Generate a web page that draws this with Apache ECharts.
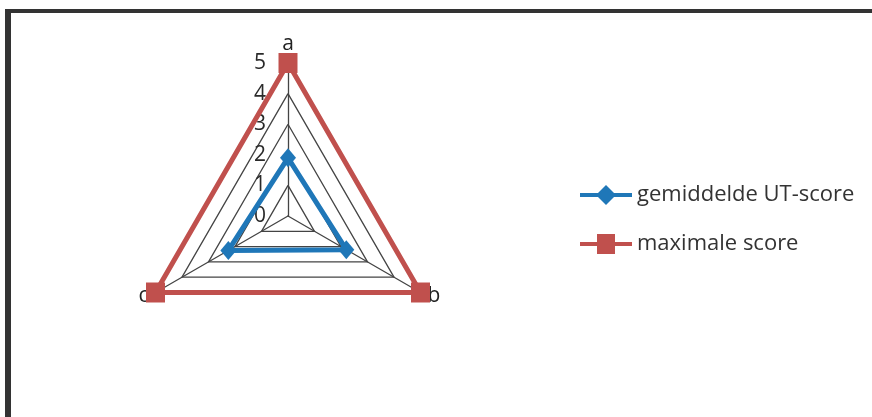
<!DOCTYPE html>
<html>
<head>
<meta charset="utf-8">
<script src="https://cdn.jsdelivr.net/npm/echarts@6/dist/echarts.min.js"></script>
<style>
html,body{margin:0;padding:0;background:#fff;}
#chart{width:872px;height:417px;position:absolute;left:0;top:0;}
#frame{position:absolute;left:5px;top:9px;width:900px;height:500px;border-top:4px solid #333;border-left:6px solid #333;pointer-events:none;}
</style>
</head>
<body>
<div id="chart"></div>
<div id="frame"></div>
<script>
// Data
const categories = ['a', 'c', 'b']; // radar order (counterclockwise from top)
const seriesNames = ['gemiddelde UT-score', 'maximale score'];
const avgScore = [1.9, 2.25, 2.2];   // a, c, b
const maxScore = [5, 5, 5];           // a, c, b
const ringTicks = [0, 1, 2, 3, 4, 5];

const FONT = 'Open Sans';
const chart = echarts.init(document.getElementById('chart'));
const maxVal = ringTicks[ringTicks.length - 1];

chart.setOption({
  animation: false,
  textStyle: { fontFamily: FONT },
  legend: {
    orient: 'vertical',
    left: 575,
    top: 179,
    itemWidth: 52,
    itemHeight: 20,
    itemGap: 27,
    textStyle: { fontFamily: FONT, fontSize: 22, color: '#333' },
    data: [
      { name: seriesNames[0], icon: 'path://M0,8 L18,8 L26,0 L34,8 L52,8 L52,12 L34,12 L26,20 L18,12 L0,12 Z' },
      { name: seriesNames[1], icon: 'path://M0,8 L17,8 L17,0 L35,0 L35,8 L52,8 L52,12 L35,12 L35,20 L17,20 L17,12 L0,12 Z' }
    ]
  },
  grid: { left: 288, top: 63, width: 1, height: 153, show: false },
  xAxis: { type: 'value', show: false },
  yAxis: {
    type: 'value', min: ringTicks[0], max: maxVal, interval: 1,
    axisLine: { show: false }, axisTick: { show: false }, splitLine: { show: false },
    axisLabel: { margin: 22, fontSize: 21, color: '#2a2a2a', fontFamily: FONT }
  },
  radar: {
    center: [288, 216],
    radius: 153,
    startAngle: 90,
    splitNumber: 5,
    shape: 'polygon',
    nameGap: 8,
    axisName: { color: '#222', fontSize: 21, fontFamily: FONT },
    indicator: categories.map(c => ({ name: c, min: 0, max: maxVal })),
    splitLine: { lineStyle: { color: '#444', width: 1.3 } },
    splitArea: { show: false },
    axisLine: { lineStyle: { color: '#444', width: 1.3 } }
  },
  series: [{
    type: 'radar',
    data: [
      {
        name: seriesNames[1], value: maxScore,
        symbol: 'rect', symbolSize: [19, 20],
        itemStyle: { color: '#c0504d' },
        lineStyle: { color: '#c0504d', width: 5 }
      },
      {
        name: seriesNames[0], value: avgScore,
        symbol: 'diamond', symbolSize: [16, 19],
        itemStyle: { color: '#1f77b8' },
        lineStyle: { color: '#1f77b8', width: 5 }
      }
    ]
  }]
});
</script>
</body>
</html>
